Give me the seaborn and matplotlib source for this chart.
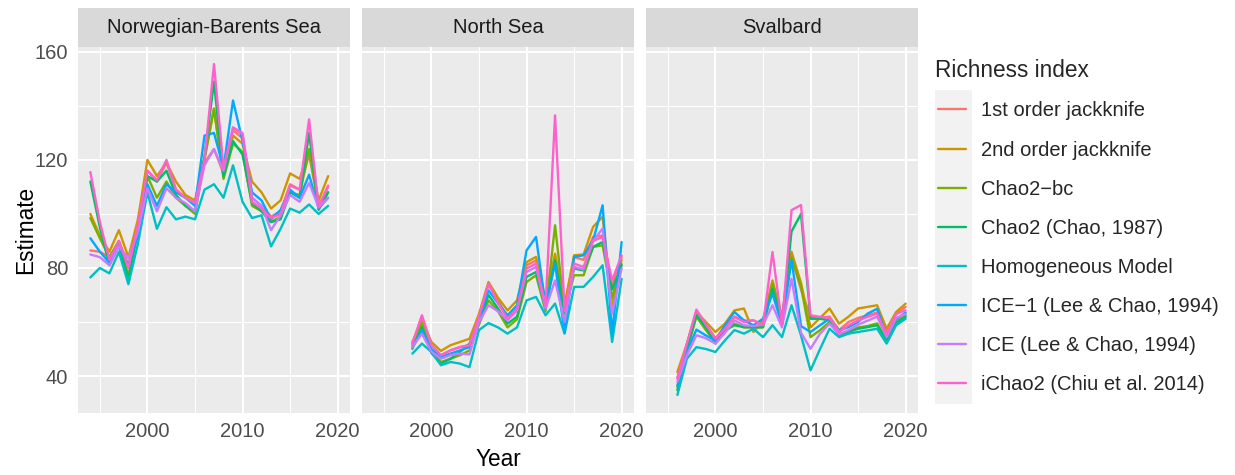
import numpy as np
import pandas as pd
import matplotlib
matplotlib.use("Agg")
import matplotlib.pyplot as plt
import seaborn as sns
from matplotlib.patches import Rectangle

# ---------------- data ----------------
regions = ["Norwegian-Barents Sea", "North Sea", "Svalbard"]
indices = ["1st order jackknife", "2nd order jackknife", "Chao2\u2212bc",
           "Chao2 (Chao, 1987)", "Homogeneous Model", "ICE\u22121 (Lee & Chao, 1994)",
           "ICE (Lee & Chao, 1994)", "iChao2 (Chiu et al. 2014)"]
colors = ["#F8766D", "#CD9600", "#7CAE00", "#00BE67", "#00BFC4", "#00A9FF", "#C77CFF", "#FF61CC"]

years_nbs = list(range(1994, 2020))
years_ns = list(range(1998, 2021))
years_sv = list(range(1996, 2021))

# Norwegian-Barents Sea (1994-2019)
nbs_jack1 = [86.5, 86, 84, 90, 81, 96, 116, 112, 119, 109, 106, 104, 119, 124, 115, 131, 128, 106, 103, 99, 101, 111, 109, 122, 103, 110]
nbs_jack2 = [100, 92, 86, 94, 84, 98, 120, 114, 119, 112, 107, 105, 121, 139, 114, 129, 126, 112, 108, 102, 105, 115, 113, 123, 105, 114]
nbs_chao2bc = [98.5, 91, 84, 90, 77, 95, 114, 106, 112, 106, 103, 100, 120, 139, 113, 126, 123, 103, 101, 97, 99, 108, 107, 124, 103, 108]
nbs_chao2 = [112, 95, 81, 88.5, 76, 93.5, 114, 112, 116, 107, 103, 101, 121, 149, 114, 127, 122, 104, 101, 97, 98, 108, 106, 130, 101.5, 108]
nbs_homog = [76.5, 80, 78, 86, 74, 89, 108, 94.5, 102.5, 98, 99, 98, 109, 111, 106, 118, 104.5, 98.5, 99.5, 88, 94.5, 102, 100.5, 103.5, 100, 103]
nbs_ice1 = [91, 86, 82, 88, 81, 92, 111, 103, 111, 108, 106, 103, 129, 130, 117, 142, 127, 108, 105, 98, 101.5, 109, 106, 114.5, 102, 106]
nbs_ice = [85, 84, 81, 88, 83.5, 93.5, 109.5, 101, 109.5, 106, 104, 101, 118, 124, 116, 132, 130, 106, 103, 94, 99.5, 107, 104.5, 111.5, 102.5, 106]
nbs_ichao2 = [115.5, 97, 83, 90, 80, 96, 116, 112.5, 120, 109, 106, 104, 120, 155.5, 117, 132, 129.5, 104.5, 102, 98.5, 100, 110.5, 109, 135, 102.5, 110.5]

# North Sea (1998-2020)
ns_jack1 = [52, 62, 51.5, 47.7, 49.5, 50.7, 51.5, 62, 74, 68, 61.5, 65, 81, 82.8, 66, 84, 66, 84, 83, 91.5, 92, 73.5, 84]
ns_jack2 = [52.6, 60.6, 52.6, 49.3, 51.4, 52.6, 53.8, 63, 74.8, 69, 64.3, 68, 82.2, 84.1, 68, 85.3, 66.2, 84.7, 85, 95.2, 99, 66, 83]
ns_chao2bc = [51.4, 59.4, 49, 45.2, 46.4, 47.7, 49.5, 59, 68, 64, 58, 61, 74.8, 77.3, 64, 95.8, 64, 77.3, 77.3, 87.8, 88.4, 69, 81.5]
ns_chao2 = [50.1, 58.1, 48.5, 44.6, 46.4, 48.9, 52, 60, 70, 65, 59.4, 62, 76.7, 78.5, 65, 82.8, 63, 79.8, 79.1, 87.8, 89.6, 72, 81]
ns_homog = [48.3, 52, 48.9, 44, 45.2, 44.6, 43.3, 57, 59.6, 58, 55.7, 58, 68, 69.3, 62.5, 66.8, 55.7, 73, 73, 76.7, 81, 52.6, 76]
ns_ice1 = [50.7, 56.9, 50, 47, 48.3, 49.5, 50.7, 61, 71.7, 67, 62.5, 66.2, 86.5, 91.5, 66, 81.6, 56, 84.1, 84.7, 90.2, 103.2, 55.7, 89.6]
ns_ice = [50.7, 55.7, 49, 46.4, 47.7, 48.3, 48, 60, 66.2, 64, 60.6, 64.3, 78.5, 80.4, 65, 75.4, 60, 80.4, 79.5, 90, 94.6, 63, 79.8]
ns_ichao2 = [52, 62.5, 51.4, 47.7, 49.5, 50.7, 51.4, 62, 74.2, 67, 61.2, 64.9, 79.8, 81.6, 66, 136.5, 64, 81.6, 80.4, 90, 91.5, 75.4, 84.7]

# Svalbard (1996-2020)
sv_jack1 = [39.5, 51.5, 64, 59, 54, 58, 62, 60.5, 60.6, 59, 73, 60, 84, 72, 62, 61.5, 62, 57, 60, 61.5, 62.5, 63.5, 56, 63, 65.6]
sv_jack2 = [41.5, 52, 63.7, 60, 56.3, 59.4, 64.3, 65, 56.3, 60.6, 75.4, 62, 86, 74.5, 58, 61.5, 65, 59.4, 62, 65, 65.6, 66.2, 57.5, 63.7, 66.8]
sv_chao2bc = [36, 49.5, 62, 57, 52.6, 56.5, 59.4, 58, 58, 58, 74.2, 61, 84, 73, 54.4, 57, 60, 55.5, 56.5, 58, 58.5, 59.5, 53.5, 60, 62.5]
sv_chao2 = [34.7, 50.1, 62.5, 58, 52, 56.9, 58.8, 58.1, 58.1, 58.1, 72.3, 60, 93.5, 100, 61.2, 61.2, 60.6, 55, 56.3, 57.5, 58.1, 58.8, 53.2, 59.5, 61.9]
sv_homog = [33, 46.4, 50.7, 50, 48.9, 53.2, 57, 55.7, 57.5, 54.4, 58.8, 54.4, 66.2, 55, 42.1, 50, 57.5, 54.4, 55.7, 56.3, 56.9, 57.5, 52, 58.8, 61.2]
sv_ice1 = [36.5, 48.9, 57.2, 55, 53.2, 58.8, 63.7, 60.6, 58.8, 61.2, 70.5, 59, 83, 58.5, 56.3, 58.8, 61.2, 56.9, 58.1, 60, 63.1, 64.9, 55, 61, 63.5]
sv_ice = [37.8, 47.7, 55.1, 54, 52, 56, 60.6, 58.8, 58.5, 59, 66.2, 58, 76, 56, 50.1, 55.7, 59.4, 55.5, 57, 59, 60.5, 62, 54.4, 61.5, 63]
sv_ichao2 = [39, 52, 64.6, 59, 53.8, 57.5, 61.9, 60, 60.6, 58.8, 85.9, 59, 101.4, 103.3, 62.5, 61.9, 61.5, 56.3, 58.8, 60.6, 61.9, 63.1, 55.5, 63, 64.3]

region_years = {regions[0]: years_nbs, regions[1]: years_ns, regions[2]: years_sv}
region_series = {
    regions[0]: [nbs_jack1, nbs_jack2, nbs_chao2bc, nbs_chao2, nbs_homog, nbs_ice1, nbs_ice, nbs_ichao2],
    regions[1]: [ns_jack1, ns_jack2, ns_chao2bc, ns_chao2, ns_homog, ns_ice1, ns_ice, ns_ichao2],
    regions[2]: [sv_jack1, sv_jack2, sv_chao2bc, sv_chao2, sv_homog, sv_ice1, sv_ice, sv_ichao2],
}

rows = []
for reg in regions:
    for idx, vals in zip(indices, region_series[reg]):
        for yr, v in zip(region_years[reg], vals):
            rows.append({"Region": reg, "Index": idx, "Year": yr, "Estimate": v})
df = pd.DataFrame(rows)

# ---------------- style ----------------
sns.set_theme(style="darkgrid")
plt.rcParams['font.family'] = ['Liberation Sans', 'DejaVu Sans']

W, H = 1235, 475
fig = plt.figure(figsize=(W / 100, H / 100), dpi=100)
left0, pw, gap = 78, 272, 12
top_px, bot_px = 47, 412.5
strip_px = 39.5
strip_h = strip_px / (bot_px - top_px)

axes = []
for i, reg in enumerate(regions):
    ax = fig.add_axes([(left0 + i * (pw + gap)) / W, 1 - bot_px / H, pw / W, (bot_px - top_px) / H])
    sub = df[df["Region"] == reg]
    sns.lineplot(data=sub, x="Year", y="Estimate", hue="Index", hue_order=indices,
                 palette=colors, ax=ax, legend=False, linewidth=1.7, errorbar=None)
    ax.set_facecolor("#EBEBEB")
    ax.set_xlim(1992.7, 2021.3)
    ax.set_ylim(26.5, 161.8)
    ax.set_xticks([2000, 2010, 2020])
    ax.set_xticks([1995, 2005, 2015], minor=True)
    ax.set_yticks([40, 80, 120, 160])
    ax.set_yticks([60, 100, 140], minor=True)
    ax.grid(which='major', color='white', lw=1.5)
    ax.grid(which='minor', color='white', lw=0.75)
    ax.set_axisbelow(True)
    for s in ax.spines.values():
        s.set_visible(False)
    ax.tick_params(which='major', length=4.5, width=1.1, color='#333333',
                   labelsize=14.5, labelcolor='#4D4D4D', pad=2.5)
    ax.tick_params(which='minor', length=0)
    ax.set_xlabel("")
    ax.set_ylabel("")
    if i > 0:
        ax.tick_params(axis='y', which='both', left=False, labelleft=False)
    ax.add_patch(Rectangle((0, 1), 1, strip_h, transform=ax.transAxes,
                           facecolor="#D9D9D9", edgecolor="none", clip_on=False))
    ax.text(0.5, 1 + strip_h / 2, reg, transform=ax.transAxes, ha='center', va='center',
            fontsize=14.5, color='#1A1A1A')
    axes.append(ax)

axes[1].set_xlabel("Year", fontsize=16.3, color='black', labelpad=5)
axes[0].set_ylabel("Estimate", fontsize=16.3, color='black', labelpad=-2)

# ---------------- legend ----------------
handles = [plt.Line2D([0], [0], color=c, lw=1.7) for c in colors]
fig.patches.append(Rectangle((935 / W, 1 - 404 / H), 37 / W, 314 / H, transform=fig.transFigure,
                             facecolor="#F2F2F2", edgecolor="none", zorder=0))
leg = fig.legend(handles, indices, loc='upper left', bbox_to_anchor=(938 / W, 1 - 59 / H),
                 frameon=False, title="Richness index", fontsize=14.5, title_fontsize=16.3,
                 handlelength=1.4, handletextpad=0.75, labelspacing=1.0, borderpad=0,
                 borderaxespad=0, alignment='left')
leg._legend_box.sep = 14
leg.get_title().set_x(-3)

fig.savefig("out.png", dpi=100, facecolor='white')
